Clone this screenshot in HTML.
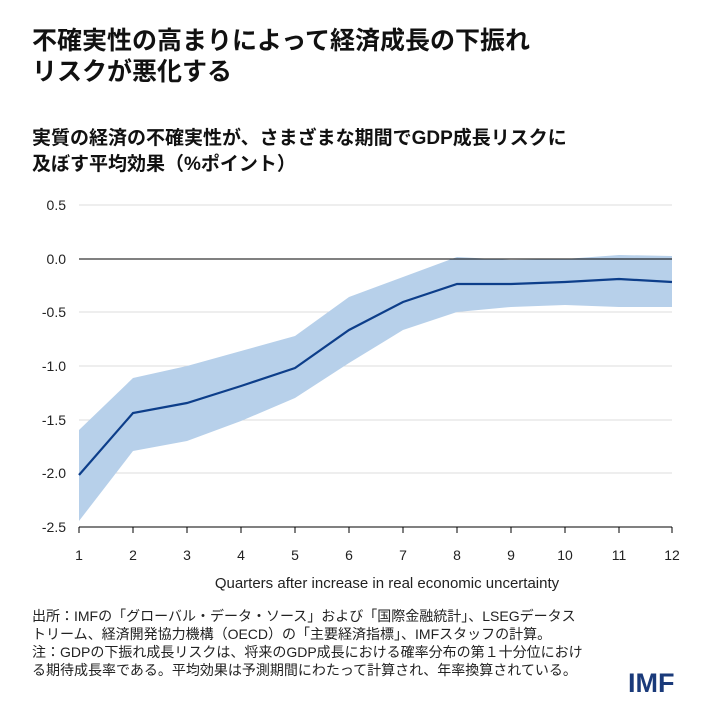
<!DOCTYPE html>
<html><head><meta charset="utf-8"><style>
body{margin:0;width:720px;height:720px;background:#fff;font-family:"Liberation Sans","Noto Sans CJK JP",sans-serif;color:#111;position:relative;overflow:hidden}
.t{position:absolute;left:32px;top:26px;font-size:25px;font-weight:bold;line-height:31px}
.s{position:absolute;left:32px;top:126px;font-size:19px;font-weight:bold;line-height:26px}
.n{position:absolute;left:32px;top:607px;font-size:14px;line-height:18px;color:#222}
.imf{position:absolute;left:628px;top:668px;font-size:27px;font-weight:bold;color:#1a3a7a}
</style></head><body>
<div class="t">不確実性の高まりによって経済成長の下振れ<br>リスクが悪化する</div>
<div class="s">実質の経済の不確実性が、さまざまな期間でGDP成長リスクに<br>及ぼす平均効果（%ポイント）</div>
<svg width="720" height="720" style="position:absolute;left:0;top:0" font-family="Liberation Sans, sans-serif">
<g stroke="#ddd" stroke-width="1">
<line x1="79" x2="672" y1="205" y2="205"/><line x1="79" x2="672" y1="312" y2="312"/><line x1="79" x2="672" y1="366" y2="366"/><line x1="79" x2="672" y1="420" y2="420"/><line x1="79" x2="672" y1="473" y2="473"/>
</g>
<polygon fill="#b7d0ea" points="79,430 133,378 187,366 241,351 295,336 349,297 403,277 457,257 511,260 565,259 619,255 672,256 672,307 619,307 565,305 511,307 457,312 403,330 349,363 295,398 241,421 187,441 133,451 79,521"/>
<line x1="79" x2="672" y1="259" y2="259" stroke="#000" stroke-width="1"/>
<line x1="79" x2="672" y1="527" y2="527" stroke="#000" stroke-width="1"/>
<polyline fill="none" stroke="#0d3e8a" stroke-width="2.2" points="79,475 133,413 187,403 241,386 295,368 349,330 403,302 457,284 511,284 565,282 619,279 672,282"/>
<g font-size="14" fill="#222" text-anchor="end">
<text x="66" y="210">0.5</text><text x="66" y="264">0.0</text><text x="66" y="317">-0.5</text><text x="66" y="371">-1.0</text><text x="66" y="425">-1.5</text><text x="66" y="478">-2.0</text><text x="66" y="532">-2.5</text>
</g>
<g stroke="#000">
<line x1="79" x2="79" y1="527" y2="533"/><line x1="133" x2="133" y1="527" y2="533"/><line x1="187" x2="187" y1="527" y2="533"/><line x1="241" x2="241" y1="527" y2="533"/><line x1="295" x2="295" y1="527" y2="533"/><line x1="349" x2="349" y1="527" y2="533"/><line x1="403" x2="403" y1="527" y2="533"/><line x1="457" x2="457" y1="527" y2="533"/><line x1="511" x2="511" y1="527" y2="533"/><line x1="565" x2="565" y1="527" y2="533"/><line x1="619" x2="619" y1="527" y2="533"/><line x1="672" x2="672" y1="527" y2="533"/>
</g>
<g font-size="14" fill="#222" text-anchor="middle">
<text x="79" y="560">1</text><text x="133" y="560">2</text><text x="187" y="560">3</text><text x="241" y="560">4</text><text x="295" y="560">5</text><text x="349" y="560">6</text><text x="403" y="560">7</text><text x="457" y="560">8</text><text x="511" y="560">9</text><text x="565" y="560">10</text><text x="619" y="560">11</text><text x="672" y="560">12</text>
<text x="387" y="588" font-size="15">Quarters after increase in real economic uncertainty</text>
</g>
</svg>
<div class="n">出所：IMFの「グローバル・データ・ソース」および「国際金融統計」、LSEGデータス<br>トリーム、経済開発協力機構（OECD）の「主要経済指標」、IMFスタッフの計算。<br>注：GDPの下振れ成長リスクは、将来のGDP成長における確率分布の第１十分位におけ<br>る期待成長率である。平均効果は予測期間にわたって計算され、年率換算されている。</div>
<div class="imf">IMF</div>
</body></html>
